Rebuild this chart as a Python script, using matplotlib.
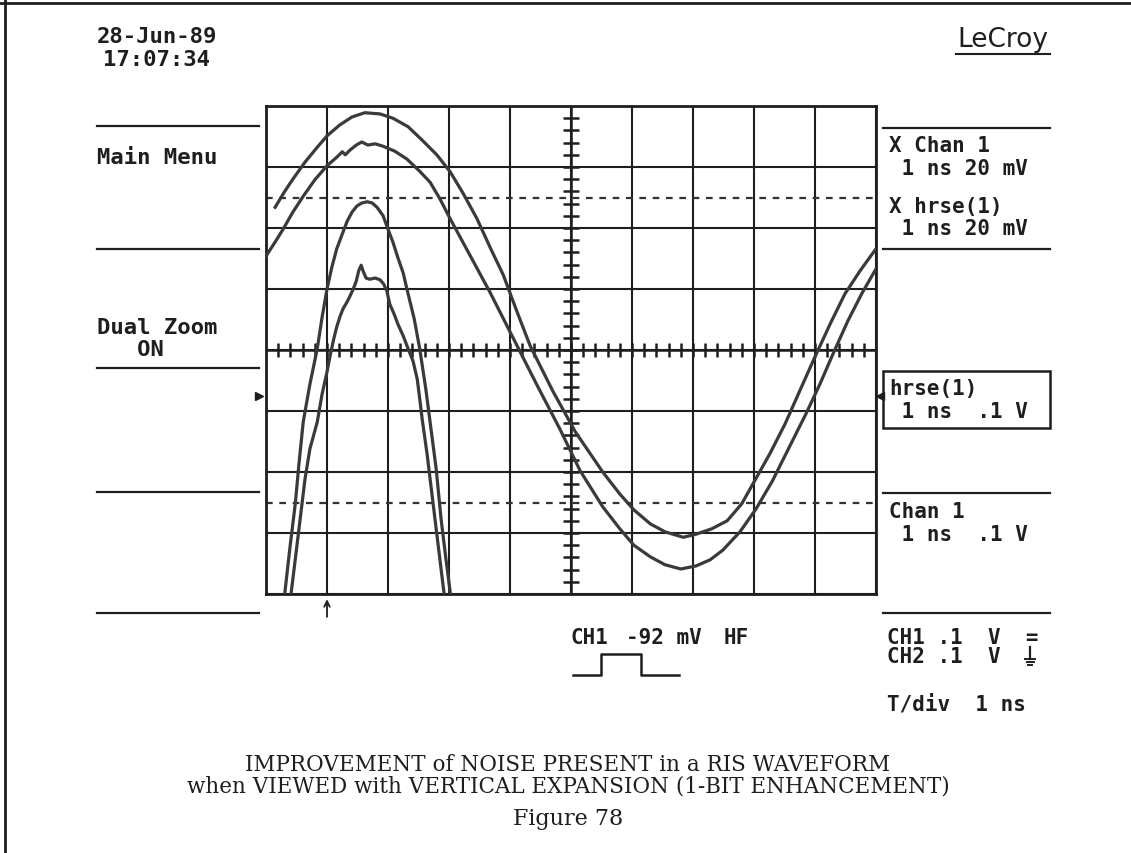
import numpy as np
import matplotlib
matplotlib.use("Agg")
import matplotlib.pyplot as plt
from matplotlib.lines import Line2D
from matplotlib.patches import Rectangle

# ---------------- data (time in ns, level in screen divisions) ----------------
# Chan 1 (0.1 V/div)
chan1_t = [0.00, 0.15, 0.28, 0.44, 0.61, 0.80, 1.00, 1.16, 1.25, 1.30,
           1.38, 1.48, 1.57, 1.67, 1.79, 1.92, 2.11, 2.31, 2.52, 2.69,
           2.85, 3.02, 3.34, 3.67, 4.05, 4.44, 4.82, 5.15, 5.52, 5.80,
           6.03, 6.30, 6.54, 6.80, 7.05, 7.28, 7.49, 7.77, 8.03, 8.30,
           8.59, 8.85, 9.08, 9.31, 9.54, 9.77, 10.00]
chan1_div = [1.54, 1.77, 1.98, 2.26, 2.52, 2.79, 3.02, 3.16, 3.25, 3.20,
             3.28, 3.36, 3.41, 3.36, 3.38, 3.34, 3.26, 3.13, 2.93, 2.75,
             2.48, 2.15, 1.56, 0.95, 0.20, -0.57, -1.30, -1.98, -2.57, -2.93,
             -3.20, -3.39, -3.52, -3.59, -3.54, -3.44, -3.28, -2.98, -2.61, -2.15,
             -1.57, -1.05, -0.56, -0.03, 0.48, 0.93, 1.33]

# hrse(1) (0.1 V/div)
hrse_t = [0.15, 0.30, 0.44, 0.64, 0.82, 1.00, 1.21, 1.41, 1.62, 1.87,
          2.08, 2.33, 2.57, 2.80, 3.02, 3.23, 3.46, 3.67, 3.89, 4.11,
          4.33, 4.70, 5.07, 5.52, 5.80, 6.03, 6.30, 6.54, 6.84, 7.05,
          7.31, 7.56, 7.80, 8.03, 8.26, 8.51, 8.75, 9.00, 9.25, 9.49,
          9.74, 10.00]
hrse_div = [2.34, 2.59, 2.80, 3.08, 3.30, 3.51, 3.69, 3.82, 3.89, 3.87,
            3.80, 3.66, 3.43, 3.20, 2.92, 2.57, 2.15, 1.69, 1.23, 0.64,
            0.07, -0.67, -1.34, -2.00, -2.36, -2.62, -2.85, -2.98, -3.07, -3.02,
            -2.93, -2.80, -2.52, -2.11, -1.70, -1.21, -0.67, -0.11, 0.43, 0.92,
            1.30, 1.66]

# X hrse(1) (expanded, 20 mV/div)
xhrse_t = [0.29, 0.31, 0.39, 0.48, 0.54, 0.61, 0.72, 0.84, 0.92, 1.00,
           1.08, 1.16, 1.25, 1.33, 1.41, 1.49, 1.57, 1.66, 1.74, 1.82,
           1.92, 2.00, 2.08, 2.16, 2.25, 2.31, 2.43, 2.52, 2.62, 2.69,
           2.79, 2.87, 2.95, 3.02, 3.05]
xhrse_div = [-4.30, -3.97, -3.26, -2.52, -1.87, -1.18, -0.56, 0.02, 0.54, 1.00,
             1.36, 1.66, 1.90, 2.11, 2.26, 2.36, 2.41, 2.43, 2.41, 2.34,
             2.20, 1.98, 1.77, 1.52, 1.26, 1.00, 0.51, 0.02, -0.64, -1.18,
             -1.95, -2.77, -3.43, -3.97, -4.30]

# X Chan 1 (expanded, 20 mV/div)
xchan1_t = [0.39, 0.41, 0.48, 0.56, 0.64, 0.72, 0.84, 0.92, 1.00, 1.05,
            1.11, 1.16, 1.21, 1.26, 1.33, 1.38, 1.43, 1.48, 1.52, 1.56,
            1.59, 1.64, 1.70, 1.79, 1.87, 1.93, 1.98, 2.03, 2.10, 2.16,
            2.25, 2.33, 2.41, 2.48, 2.52, 2.56, 2.64, 2.72, 2.82, 2.92,
            2.94]
xchan1_div = [-4.30, -4.00, -3.43, -2.77, -2.11, -1.62, -1.18, -0.72, -0.36, -0.10,
              0.18, 0.38, 0.54, 0.67, 0.79, 0.89, 1.00, 1.13, 1.30, 1.39,
              1.30, 1.18, 1.16, 1.18, 1.15, 1.08, 0.97, 0.75, 0.59, 0.43,
              0.23, 0.02, -0.18, -0.48, -0.80, -1.13, -1.70, -2.36, -3.18, -4.00,
              -4.30]

# screen layout
n_xdiv = 10
n_ydiv = 8
center_t = 5
zoom_marks = [2.5, -2.5]
trigger_t = 1.0

date_lines = ["28-Jun-89", "17:07:34"]
left_menu = ["Main Menu", "Dual Zoom", "   ON"]
right_labels = [("X Chan 1", " 1 ns 20 mV"), ("X hrse(1)", " 1 ns 20 mV"),
                ("hrse(1)", " 1 ns  .1 V"), ("Chan 1", " 1 ns  .1 V")]
trig_info = ["CH1", "-92 mV", "HF"]
ch_info = ["CH1 .1  V  =", "CH2 .1  V  "]
tdiv_info = "T/div  1 ns"
caption = ["IMPROVEMENT of NOISE PRESENT in a RIS WAVEFORM",
           "when VIEWED with VERTICAL EXPANSION (1-BIT ENHANCEMENT)"]
figure_label = "Figure 78"

# ---------------- figure ----------------
W, H = 1131, 854
fig = plt.figure(figsize=(W / 100, H / 100), dpi=100)
fig.patch.set_facecolor("white")

def fx(px):
    return px / W

def fy(py):
    return 1 - py / H

ink = "#1e1e1e"
trace = "#3a3a3a"
mono = ["DejaVu Sans Mono"]

ax = fig.add_axes([fx(266), fy(595), fx(876) - fx(266), fy(107) - fy(595)])
ax.set_xlim(0, n_xdiv)
ax.set_ylim(-n_ydiv / 2, n_ydiv / 2)
ax.set_xticks(np.arange(0, n_xdiv + 1))
ax.set_yticks(np.arange(-n_ydiv / 2, n_ydiv / 2 + 1))
ax.tick_params(length=0, labelbottom=False, labelleft=False)
ax.grid(True, color=ink, lw=1.5)
for sp in ax.spines.values():
    sp.set_linewidth(2.0)
    sp.set_color(ink)

# center graticule with small ticks
ax.axhline(0, color=ink, lw=1.8)
ax.axvline(center_t, color=ink, lw=1.8)
minor = np.arange(0.2, n_xdiv, 0.2)
ax.plot(minor, np.zeros_like(minor), ls="none", marker="|", ms=10, mew=1.8, color=ink)
minor_y = np.arange(-n_ydiv / 2 + 0.2, n_ydiv / 2, 0.2)
ax.plot(np.full_like(minor_y, center_t), minor_y, ls="none", marker="_", ms=11, mew=1.8, color=ink)

# dashed zoom limit lines
for z in zoom_marks:
    ax.axhline(z, color="#333333", lw=1.6, ls=(0, (3, 3)))

# traces
for t, v in [(chan1_t, chan1_div), (hrse_t, hrse_div),
             (xhrse_t, xhrse_div), (xchan1_t, xchan1_div)]:
    ax.plot(t, v, color=trace, lw=2.3, solid_joinstyle="round", zorder=5)

# trigger arrow below the grid
ax.annotate("", xy=(trigger_t, -4.04), xytext=(trigger_t, -4.42),
            arrowprops=dict(arrowstyle="->", color=ink, lw=1.3),
            annotation_clip=False)

# ---------------- surrounding frame ----------------
fig.add_artist(Line2D([fx(5), fx(5)], [0, 1], color=ink, lw=2.0))
fig.add_artist(Line2D([0, 1], [fy(4), fy(4)], color=ink, lw=2.0))

# left menu separators
for py in [127, 250, 369, 493, 614]:
    fig.add_artist(Line2D([fx(97), fx(259)], [fy(py), fy(py)], color=ink, lw=1.6))
# right separators
for py in [129, 250, 494, 614]:
    fig.add_artist(Line2D([fx(883), fx(1050)], [fy(py), fy(py)], color=ink, lw=1.6))

# offset markers
fig.add_artist(Line2D([fx(259)], [fy(397)], marker=">", ms=6, color=ink))
fig.add_artist(Line2D([fx(880)], [fy(397)], marker="<", ms=6, color=ink))

# ---------------- texts ----------------
def ftext(px, py, s, size=15, **kw):
    d = dict(va="center", ha="left", family=mono, fontsize=size, color=ink,
             fontweight="bold")
    d.update(kw)
    fig.text(fx(px), fy(py), s, **d)

ftext(157, 37, date_lines[0], size=16, ha="center")
ftext(157, 60, date_lines[1], size=16, ha="center")
ftext(97, 158, left_menu[0], size=16)
ftext(97, 328, left_menu[1], size=16)
ftext(97, 350, left_menu[2], size=16)

# LeCroy logo
fig.text(fx(1003), fy(40), "LeCroy", ha="center", va="center",
         family=["DejaVu Sans"], fontsize=19, color=ink)
fig.add_artist(Line2D([fx(956), fx(1050)], [fy(55), fy(55)], color=ink, lw=1.5))

# right labels
for (l1, l2), (py1, py2) in zip(right_labels, [(146, 169), (207, 229), (389, 412), (512, 535)]):
    ftext(889, py1, l1)
    ftext(889, py2, l2)
fig.add_artist(Rectangle((fx(883), fy(429)), fx(1050) - fx(883), fy(372) - fy(429),
                         fill=False, ec=ink, lw=1.8))

# trigger info
ftext(570, 638, trig_info[0])
ftext(626, 638, trig_info[1])
ftext(724, 638, trig_info[2])
px = [573, 601, 601, 641, 641, 679]
py = [676, 676, 655, 655, 676, 676]
fig.add_artist(Line2D([fx(p) for p in px], [fy(p) for p in py], color=ink, lw=1.8))

ftext(887, 638, ch_info[0])
ftext(887, 657, ch_info[1])
# ground symbol
gx = 1030
fig.add_artist(Line2D([fx(gx), fx(gx)], [fy(648), fy(660)], color=ink, lw=1.6))
for w, yy in [(5, 660), (3.5, 663), (2, 666)]:
    fig.add_artist(Line2D([fx(gx - w), fx(gx + w)], [fy(yy), fy(yy)], color=ink, lw=1.4))
ftext(887, 704, tdiv_info)

# caption
serif = ["DejaVu Serif"]
fig.text(fx(568), fy(765), caption[0], ha="center", va="center", family=serif, fontsize=15.5, color=ink)
fig.text(fx(568), fy(787), caption[1], ha="center", va="center", family=serif, fontsize=15.5, color=ink)
fig.text(fx(568), fy(819), figure_label, ha="center", va="center", family=serif, fontsize=16, color=ink)

fig.savefig("out.png", dpi=100, facecolor="white")
